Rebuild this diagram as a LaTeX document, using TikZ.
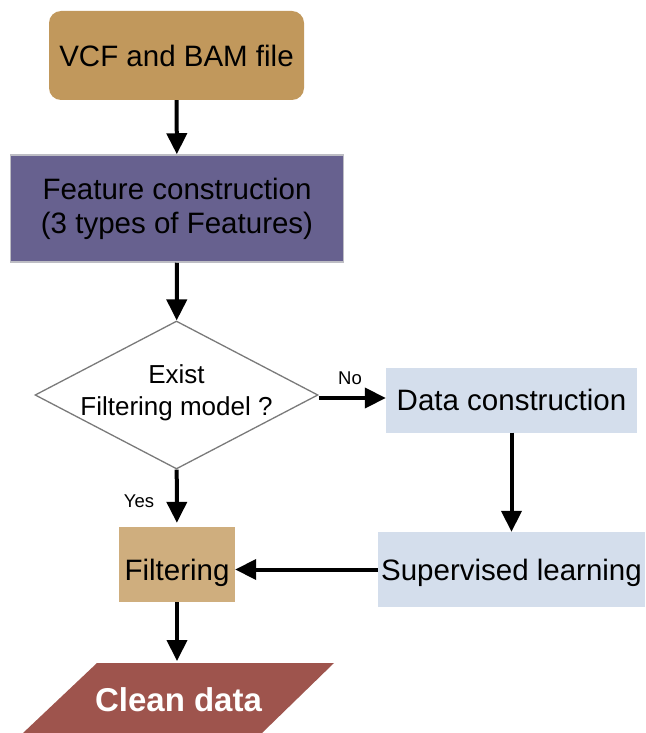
\documentclass[tikz,border=0pt]{standalone}
\usepackage{fontspec}
\setmainfont{Liberation Sans}
\usetikzlibrary{arrows.meta,shapes.geometric}
\definecolor{vcfc}{HTML}{C1985C}
\definecolor{featc}{HTML}{67618F}
\definecolor{featb}{HTML}{BDBDC4}
\definecolor{filtc}{HTML}{CFAE7E}
\definecolor{bluec}{HTML}{D4DEEC}
\definecolor{cleanc}{HTML}{9E544D}
\definecolor{diab}{HTML}{7A7A7A}
\begin{document}
\begin{tikzpicture}[x=1pt,y=-1pt,
  boxtext/.style={font=\fontsize{29.5}{34}\selectfont, align=center, inner sep=0pt},
  oneline/.style={text height=21.1pt, text depth=0pt},
  arr/.style={line width=4pt, -{Triangle[length=21pt,width=20pt]}},
  small/.style={font=\fontsize{18.5}{20}\selectfont, inner sep=0pt}]
\useasboundingbox (0,0) rectangle (645,733);

\node[boxtext, oneline, fill=vcfc, rounded corners=12pt, minimum width=255pt, minimum height=89pt] (vcf) at (176.5,55.5) {VCF and BAM file};
\node[boxtext, fill=featc, draw=featb, line width=1.5pt, minimum width=333pt, minimum height=107pt] (feat) at (177,208.5) {Feature construction\\(3 types of Features)};
\node[diamond, draw=diab, line width=1.3pt, fill=white, minimum width=283pt, minimum height=148pt, inner sep=0pt] (dia) at (176.5,395) {};
\node[font=\fontsize{26}{32}\selectfont, align=center, inner sep=0pt] (diatext) at (176.5,393) {Exist\\Filtering model ?};
\node[boxtext, oneline, fill=bluec, minimum width=251pt, minimum height=65pt] (data) at (511.5,400) {Data construction};
\node[boxtext, oneline, fill=bluec, minimum width=267pt, minimum height=75pt] (sup) at (511.5,569.5) {Supervised learning};
\node[boxtext, oneline, fill=filtc, minimum width=116pt, minimum height=75pt] (filt) at (177,564.5) {};
\node[boxtext, oneline] (filttext) at (177,569.5) {Filtering};

\fill[cleanc] (97,663) -- (334,663) -- (262,733) -- (23,733) -- cycle;
\node[font=\fontsize{33}{36}\selectfont\bfseries, text=white, inner sep=0pt, text height=23.6pt, text depth=0pt] (clean) at (178.5,700) {Clean data};
\coordinate (cleantop) at (177,661);

\draw[arr] (vcf) -- (feat);
\draw[arr] (feat) -- (dia);
\draw[arr] ([yshift=-3pt]dia.east) -- ([yshift=-3pt]data.west |- dia.east);
\draw[arr] (data) -- (sup);
\draw[arr, shorten >=4pt] (dia) -- (filt);
\draw[arr] (sup.west) -- (filt.east |- sup.west);
\draw[arr] (filt) -- (cleantop);

\node[small] (no) at (350,378) {No};
\node[small] (yes) at (139,501) {Yes};
\end{tikzpicture}
\end{document}
